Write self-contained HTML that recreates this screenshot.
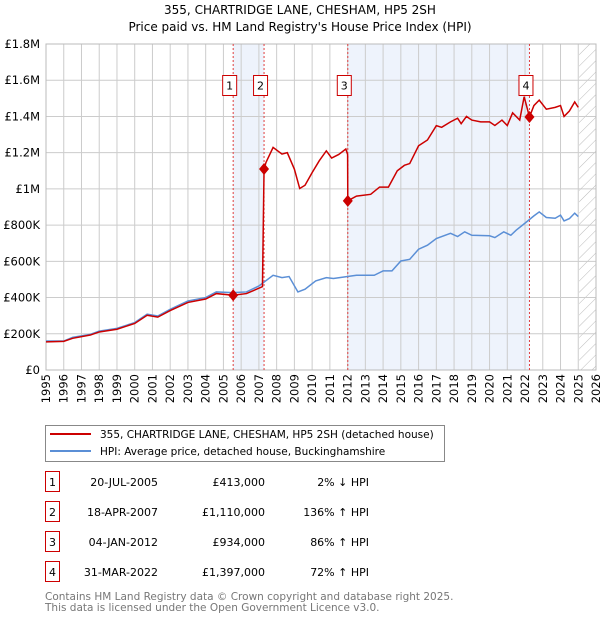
<!DOCTYPE html>
<html><head><meta charset="utf-8"><style>
body{margin:0;background:#fff;font-family:"DejaVu Sans","Liberation Sans",sans-serif;}
svg text{font-family:"DejaVu Sans","Liberation Sans",sans-serif;}
</style></head><body>
<svg id="chart" width="600" height="620" xmlns="http://www.w3.org/2000/svg">
<defs><pattern id="hatch" width="8" height="8" patternUnits="userSpaceOnUse" patternTransform="rotate(45)"><line x1="0" y1="0" x2="0" y2="8" stroke="#bbb" stroke-width="1"/></pattern></defs>
<text x="300" y="14" text-anchor="middle" font-size="12">355, CHARTRIDGE LANE, CHESHAM, HP5 2SH</text>
<text x="300" y="31" text-anchor="middle" font-size="12">Price paid vs. HM Land Registry's House Price Index (HPI)</text>
<g id="plot"></g>
<g>
<rect x="45.5" y="425.5" width="399" height="36" fill="#fff" stroke="#888"/>
<line x1="50" y1="434" x2="91" y2="434" stroke="#cc0000" stroke-width="2"/>
<text x="100" y="438" font-size="10.5">355, CHARTRIDGE LANE, CHESHAM, HP5 2SH (detached house)</text>
<line x1="50" y1="451" x2="91" y2="451" stroke="#5b8fd6" stroke-width="2"/>
<text x="100" y="455" font-size="10.5">HPI: Average price, detached house, Buckinghamshire</text>
</g>
<g id="table" font-size="11"></g>
<text x="45" y="600" font-size="10.5" fill="#777">Contains HM Land Registry data © Crown copyright and database right 2025.</text>
<text x="45" y="611" font-size="10.5" fill="#777">This data is licensed under the Open Government Licence v3.0.</text>
</svg>
<script>
const hpiYears=[1995,1996,1996.5,1997.5,1998,1999,2000,2000.7,2001.3,2002,2003,2004,2004.6,2005.5,2006.3,2007,2007.8,2008.3,2008.7,2009.2,2009.6,2010.2,2010.8,2011.2,2012,2012.5,2013.5,2014,2014.5,2015,2015.5,2016,2016.5,2017,2017.8,2018.2,2018.6,2019,2020,2020.3,2020.8,2021.2,2021.5,2022,2022.5,2022.8,2023.2,2023.7,2024,2024.2,2024.5,2024.8,2025];
const hpiValues=[160,160,180,197,215,230,262,308,298,335,381,400,431,427,431,464,523,510,516,431,446,492,510,505,516,523,523,547,547,602,611,667,689,726,755,737,763,744,741,731,763,744,772,811,851,873,842,838,855,823,836,866,847];
const redYears=[1995,1996,1996.5,1997.5,1998,1999,2000,2000.7,2001.3,2002,2003,2004,2004.6,2005.55,2006.3,2007.2,2007.29,2007.4,2007.8,2008.3,2008.6,2009.0,2009.3,2009.6,2010,2010.4,2010.8,2011.1,2011.5,2011.9,2012.0,2012.01,2012.5,2013.3,2013.8,2014.3,2014.8,2015.2,2015.5,2016,2016.5,2017,2017.3,2017.8,2018.2,2018.4,2018.7,2019,2019.5,2020,2020.3,2020.7,2021,2021.3,2021.7,2021.95,2022.25,2022.5,2022.8,2023.2,2023.7,2024,2024.2,2024.5,2024.8,2025];
const redValues=[155,158,175,193,210,225,257,302,292,328,373,392,422,413,422,460,1110,1146,1229,1192,1200,1109,1002,1020,1090,1155,1210,1170,1190,1220,1190,934,960,970,1010,1010,1100,1130,1140,1238,1270,1349,1340,1370,1390,1360,1400,1380,1370,1370,1350,1380,1350,1420,1380,1509,1397,1460,1490,1440,1450,1460,1400,1430,1480,1450];
const saleYears=[2005.55,2007.29,2012.01,2022.25];
const saleValues=[413,1110,934,1397];
const saleLabels=["1","2","3","4"];
const saleDates=["20-JUL-2005","18-APR-2007","04-JAN-2012","31-MAR-2022"];
const salePrices=["£413,000","£1,110,000","£934,000","£1,397,000"];
const saleHpi=["2% ↓ HPI","136% ↑ HPI","86% ↑ HPI","72% ↑ HPI"];
const yTicks=[0,200,400,600,800,1000,1200,1400,1600,1800];
const yTickLabels=["£0","£200K","£400K","£600K","£800K","£1M","£1.2M","£1.4M","£1.6M","£1.8M"];
const xTicks=[1995,1996,1997,1998,1999,2000,2001,2002,2003,2004,2005,2006,2007,2008,2009,2010,2011,2012,2013,2014,2015,2016,2017,2018,2019,2020,2021,2022,2023,2024,2025,2026];

const NS="http://www.w3.org/2000/svg";
const X0=46,X1=596,Y0=370,Y1=44;
const xs=y=>X0+(y-1995)/(2026-1995)*(X1-X0);
const ys=v=>Y0-v/1800*(Y0-Y1);
const plot=document.getElementById('plot');
function mk(tag,attrs,parent){const e=document.createElementNS(NS,tag);for(const k in attrs)e.setAttribute(k,attrs[k]);(parent||plot).appendChild(e);return e;}

let e;
e=mk('rect',{x:xs(saleYears[0]),y:Y1,width:xs(saleYears[1])-xs(saleYears[0]),height:Y0-Y1,fill:'#eef3fc'});


e=mk('rect',{x:xs(saleYears[2]),y:Y1,width:xs(saleYears[3])-xs(saleYears[2]),height:Y0-Y1,fill:'#eef3fc'});


e=mk('rect',{x:xs(2025.05),y:Y1,width:X1-xs(2025.05),height:Y0-Y1,fill:'url(#hatch)'});


xTicks.forEach((t,i)=>{
 e=mk('line',{x1:xs(t),x2:xs(t),y1:Y1,y2:Y0,stroke:'#ccc','stroke-width':1});
 
 
 e=mk('text',{x:0,y:0,transform:`translate(${xs(t)+4},${Y0+4}) rotate(-90)`,'text-anchor':'end','font-size':11.5});
 e.textContent=t;
 
 
});
yTicks.forEach((t,i)=>{
 e=mk('line',{x1:X0,x2:X1,y1:ys(t),y2:ys(t),stroke:'#ccc','stroke-width':1});
 
 
 e=mk('text',{x:X0-6,y:ys(t)+4,'text-anchor':'end','font-size':11.5});
 e.textContent=yTickLabels[i];
 
 
});
e=mk('rect',{x:X0,y:Y1,width:X1-X0,height:Y0-Y1,fill:'none',stroke:'#bbb'});


saleYears.forEach((s,i)=>{
 e=mk('line',{x1:xs(s),x2:xs(s),y1:Y1,y2:Y0,stroke:'#e04040','stroke-width':1,'stroke-dasharray':'2,2'});
 
 
});
e=mk('polyline',{points:hpiYears.map((y,i)=>xs(y)+','+ys(hpiValues[i])).join(' '),fill:'none',stroke:'#5b8fd6','stroke-width':1.5});


e=mk('polyline',{points:redYears.map((y,i)=>xs(y)+','+ys(redValues[i])).join(' '),fill:'none',stroke:'#cc0000','stroke-width':1.5});


saleYears.forEach((s,i)=>{
 const cx=xs(s),cy=ys(saleValues[i]);
 e=mk('polygon',{points:`${cx},${cy-6} ${cx+5},${cy} ${cx},${cy+6} ${cx-5},${cy}`,fill:'#cc0000'});
 
 
 const g=mk('g',{});
 
 
 mk('rect',{x:cx-10.5,y:75.5,width:14,height:20,fill:'#fff',stroke:'#cc0000'},g);
 const t=mk('text',{x:cx-3.5,y:89.5,'text-anchor':'middle','font-size':11},g);
 t.textContent=saleLabels[i];
});
const tbl=document.getElementById('table');
const rowY=[483,513,543,573];
saleLabels.forEach((l,i)=>{
 const g=mk('g',{},tbl);
 
 
 mk('rect',{x:45.5,y:rowY[i]-11.5,width:14,height:20,fill:'#fff',stroke:'#cc0000'},g);
 let t=mk('text',{x:52.5,y:rowY[i]+3,'text-anchor':'middle'},g);t.textContent=l;
 t=mk('text',{x:158,y:rowY[i]+3,'text-anchor':'end'},g);t.textContent=saleDates[i];
 t=mk('text',{x:265,y:rowY[i]+3,'text-anchor':'end'},g);t.textContent=salePrices[i];
 t=mk('text',{x:369,y:rowY[i]+3,'text-anchor':'end'},g);t.textContent=saleHpi[i];
});
</script>
</body></html>
